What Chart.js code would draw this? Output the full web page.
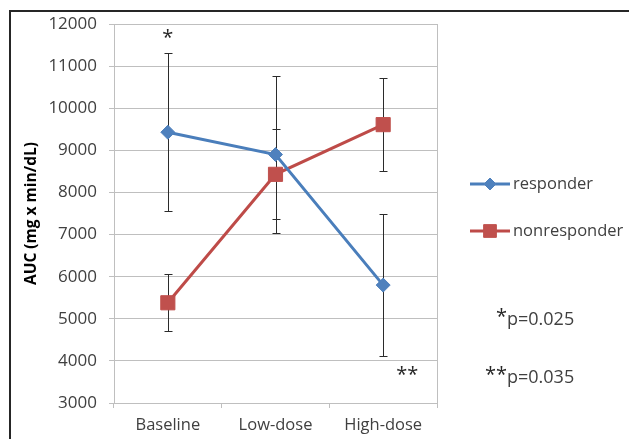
<!DOCTYPE html>
<html>
<head>
<meta charset="utf-8">
<script src="https://cdn.jsdelivr.net/npm/chart.js@4"></script>
<style>
  html, body { margin: 0; padding: 0; background: #fff; }
  #wrap { width: 629px; height: 439px; position: relative; }
</style>
</head>
<body>
<div id="wrap"><canvas id="chart1"></canvas></div>
<script>
// values
const categories = ['Baseline', 'Low-dose', 'High-dose'];
const responder = [9430, 8900, 5800];
const responderErr = [1870, 1860, 1680];
const nonresponder = [5380, 8430, 9610];
const nonresponderErr = [680, 1070, 1110];
const yMin = 3000;
const yMax = 12000;
const yStep = 1000;
const pValues = ['p=0.025', 'p=0.035'];

const blue = '#4A7EBB';
const red = '#BE4B48';
const textColor = '#404040';
const gridColor = '#BFBFBF';
const fontFamily = '"Open Sans", "Liberation Sans", sans-serif';

Chart.defaults.font.family = fontFamily;
Chart.defaults.color = textColor;

// frame round the figure (only top and left edges fall inside the picture)
const frame = {
    id: 'frame',
    beforeDraw(chart) {
        const c = chart.ctx;
        c.save();
        c.strokeStyle = '#262626';
        c.lineWidth = 2;
        c.beginPath();
        c.moveTo(10, chart.height);
        c.lineTo(10, 11);
        c.lineTo(chart.width, 11);
        c.stroke();
        c.restore();
    }
};

// vertical error bars, drawn under the markers
const errorBars = {
    id: 'errorBars',
    beforeDatasetsDraw(chart) {
        const c = chart.ctx;
        const x = chart.scales.x, y = chart.scales.y;
        c.save();
        c.strokeStyle = '#2b2b2b';
        c.lineWidth = 1;
        chart.data.datasets.forEach(ds => {
            ds.data.forEach((v, i) => {
                const e = ds.errors[i];
                const px = Math.round(x.getPixelForValue(i)) + 0.5;
                const top = Math.round(y.getPixelForValue(v + e)) + 0.5;
                const bot = Math.round(y.getPixelForValue(v - e)) + 0.5;
                c.beginPath();
                c.moveTo(px, top); c.lineTo(px, bot);
                c.moveTo(px - 4, top); c.lineTo(px + 4, top);
                c.moveTo(px - 4, bot); c.lineTo(px + 4, bot);
                c.stroke();
            });
        });
        c.restore();
    }
};

// legend with line + marker, significance marks and p-values
const notes = {
    id: 'notes',
    afterDraw(chart) {
        const c = chart.ctx;
        const x = chart.scales.x, y = chart.scales.y;
        const area = chart.chartArea;
        c.save();

        const lx = area.right + 33;
        chart.data.datasets.forEach((ds, i) => {
            const ly = 184 + i * 47;
            c.strokeStyle = ds.borderColor;
            c.lineWidth = 3;
            c.beginPath();
            c.moveTo(lx, ly); c.lineTo(lx + 40, ly);
            c.stroke();
            c.fillStyle = ds.pointBackgroundColor;
            c.strokeStyle = ds.pointBackgroundColor;
            c.lineWidth = 1;
            Chart.helpers.drawPoint(c, {
                pointStyle: ds.pointStyle,
                radius: ds.pointStyle === 'rect' ? 9 : 6,
                borderWidth: 1
            }, lx + 20, ly);
            c.fillStyle = textColor;
            c.font = '16.5px ' + fontFamily;
            c.textAlign = 'left';
            c.textBaseline = 'middle';
            c.fillText(ds.label, lx + 43, ly);
        });

        // significance marks on the plot
        c.fillStyle = '#262626';
        c.font = '20px ' + fontFamily;
        c.textAlign = 'center';
        c.textBaseline = 'middle';
        c.fillText('*', x.getPixelForValue(0), y.getPixelForValue(11650));
        c.fillText('**', x.getPixelForValue(2) + 24, y.getPixelForValue(3650));

        // p-values at the right
        const px = area.right + 70;
        [['*', 318], ['**', 376]].forEach(([mark, py], i) => {
            c.font = '20px ' + fontFamily;
            c.textAlign = 'right';
            c.textBaseline = 'middle';
            c.fillStyle = '#262626';
            c.fillText(mark, px, py - 1);
            c.font = '18px ' + fontFamily;
            c.textAlign = 'left';
            c.fillStyle = textColor;
            c.fillText(pValues[i], px, py + 2);
        });
        c.restore();
    }
};

const ctx = document.getElementById('chart1');

new Chart(ctx, {
    type: 'line',
    data: {
        labels: categories,
        datasets: [{
            label: 'responder',
            data: responder,
            errors: responderErr,
            borderColor: blue,
            backgroundColor: blue,
            pointBackgroundColor: '#4F81BD',
            pointBorderColor: '#4F81BD',
            borderWidth: 3,
            pointStyle: 'rectRot',
            pointRadius: 7,
            pointBorderWidth: 1
        }, {
            label: 'nonresponder',
            data: nonresponder,
            errors: nonresponderErr,
            borderColor: red,
            backgroundColor: red,
            pointBackgroundColor: '#C0504D',
            pointBorderColor: '#C0504D',
            borderWidth: 3,
            pointStyle: 'rect',
            pointRadius: 10,
            pointBorderWidth: 1
        }]
    },
    options: {
        responsive: true,
        maintainAspectRatio: false,
        animation: false,
        events: [],
        layout: {
            padding: { left: 0, top: 24, right: 192, bottom: 0 }
        },
        plugins: {
            legend: { display: false },
            tooltip: { enabled: false }
        },
        scales: {
            x: {
                offset: true,
                afterFit: s => { s.height = 36; },
                grid: {
                    offset: true,
                    drawOnChartArea: false,
                    tickLength: 5,
                    color: gridColor
                },
                border: { color: gridColor },
                ticks: {
                    padding: 7,
                    font: { size: 16.5 },
                    color: textColor
                }
            },
            y: {
                min: yMin,
                max: yMax,
                afterFit: s => { s.width = 114; },
                grid: {
                    tickLength: 5,
                    color: gridColor
                },
                border: { color: gridColor },
                ticks: {
                    stepSize: yStep,
                    padding: 12,
                    font: { size: 17 },
                    color: textColor,
                    callback: v => String(v)
                },
                title: {
                    display: true,
                    text: 'AUC (mg x min/dL)',
                    color: '#000',
                    padding: { top: 22, bottom: 0 },
                    font: { size: 15.5, weight: 'bold' }
                }
            },
            y2: {
                position: 'right',
                min: yMin,
                max: yMax,
                afterFit: s => { s.width = 0; },
                grid: { display: false },
                ticks: { display: false },
                border: { display: true, color: gridColor }
            }
        }
    },
    plugins: [frame, errorBars, notes]
});
</script>
</body>
</html>
